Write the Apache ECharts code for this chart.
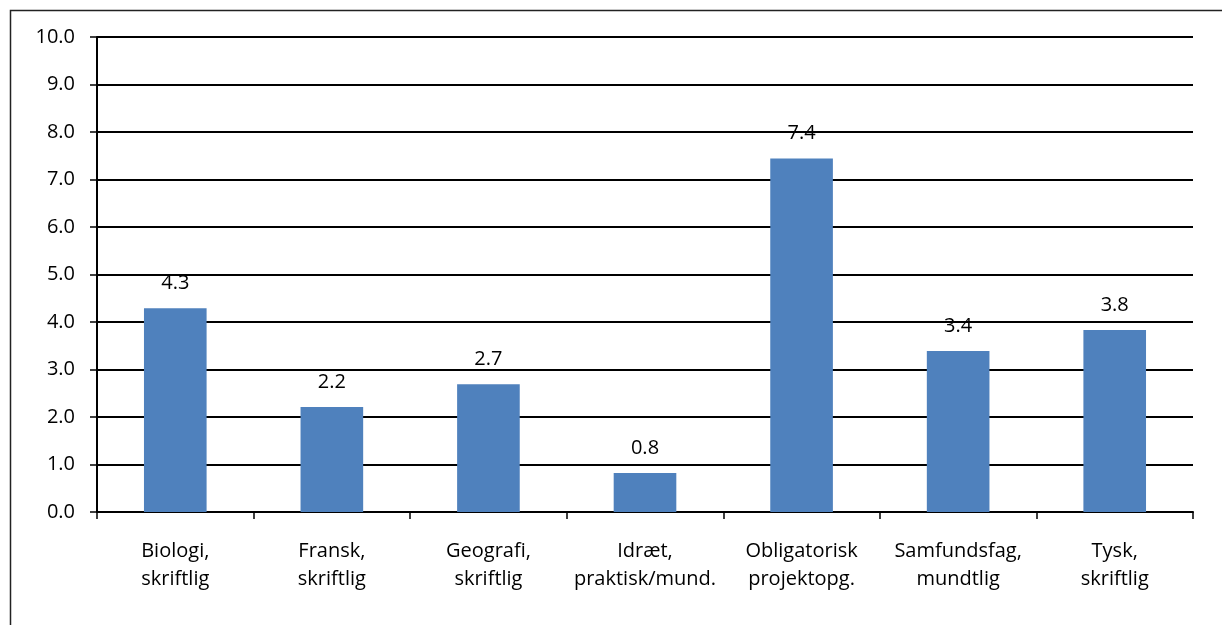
<!DOCTYPE html>
<html><head><meta charset="utf-8">
<script src="https://cdn.jsdelivr.net/npm/echarts@6/dist/echarts.min.js"></script>
<style>html,body{margin:0;padding:0;background:#fff}#c{width:1222px;height:625px}</style>
</head><body><div id="c"></div>
<script>
const categories = ["Biologi,\nskriftlig","Fransk,\nskriftlig","Geografi,\nskriftlig","Idræt,\npraktisk/mund.","Obligatorisk\nprojektopg.","Samfundsfag,\nmundtlig","Tysk,\nskriftlig"];
const values = [4.29, 2.21, 2.69, 0.82, 7.44, 3.39, 3.83];
const yMin = 0, yMax = 10, yStep = 1;

const font = '"Open Sans", "Liberation Sans", sans-serif';
const chart = echarts.init(document.getElementById('c'));
chart.setOption({
  animation: false,
  backgroundColor: '#fff',
  graphic: [{
    type: 'rect', left: 8, top: 8, silent: true,
    shape: { width: 1400, height: 800 },
    style: { fill: 'none', stroke: '#222', lineWidth: 1.5 }
  }],
  grid: { left: 97, right: 29, top: 37, bottom: 113 },
  xAxis: {
    type: 'category', data: categories,
    axisLine: { lineStyle: { color: '#000', width: 2 } },
    axisTick: { show: true, length: 7, lineStyle: { color: '#000', width: 1.5 } },
    axisLabel: { color: '#000', fontFamily: font, fontSize: 20, lineHeight: 28, margin: 25, interval: 0 }
  },
  yAxis: {
    type: 'value', min: yMin, max: yMax, interval: yStep,
    axisLine: { show: true, lineStyle: { color: '#000', width: 2 } },
    axisTick: { show: true, length: 7, lineStyle: { color: '#000', width: 1.5 } },
    axisLabel: { color: '#000', fontFamily: font, fontSize: 20, margin: 22, formatter: v => v.toFixed(1) },
    splitLine: { lineStyle: { color: '#000', width: 2 } }
  },
  series: [{
    type: 'bar', data: values, barWidth: '40%',
    itemStyle: { color: '#4F81BD' },
    label: { show: true, position: 'top', distance: 15, color: '#000', fontFamily: font, fontSize: 20, formatter: p => p.value.toFixed(1) }
  }]
});
</script></body></html>
